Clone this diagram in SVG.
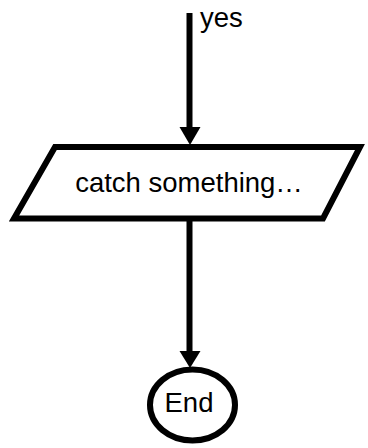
<svg xmlns="http://www.w3.org/2000/svg" width="368" height="448" viewBox="0 0 368 448">
<style>
.shape{fill:#fff;stroke:#000;stroke-width:6}
.conn{fill:none;stroke:#000;stroke-width:6}
.head{fill:#000;stroke:none}
text{font-family:"Liberation Sans",Arial,sans-serif;font-size:27.5px;fill:#000}
</style>
<rect width="368" height="448" fill="#fff"/>
<g id="connectors">
<line class="conn" x1="189.5" y1="13" x2="189.5" y2="130"/>
<path class="head" d="M179.5,127 L200.5,127 L190,145 Z"/>
<text x="200" y="27">yes</text>
<line class="conn" x1="189.5" y1="218" x2="189.5" y2="354"/>
<path class="head" d="M179.5,351 L200.5,351 L190,368 Z"/>
</g>
<g id="catch">
<polygon class="shape" points="55,147 360,147 323,218.5 14,218.5"/>
<text x="189" y="192" text-anchor="middle">catch something…</text>
</g>
<g id="end">
<ellipse class="shape" cx="192.5" cy="405" rx="42.5" ry="35.5"/>
<text x="189" y="412" text-anchor="middle">End</text>
</g>
</svg>
